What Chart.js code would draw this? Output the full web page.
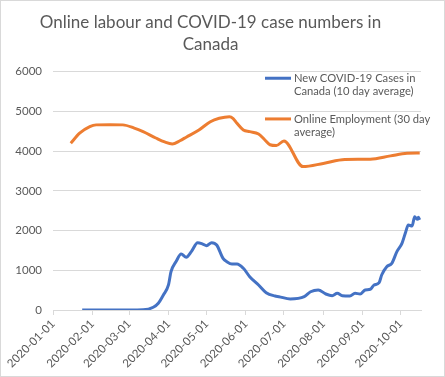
<!DOCTYPE html>
<html>
<head>
<meta charset="utf-8">
<script src="https://cdn.jsdelivr.net/npm/chart.js@4"></script>
<style>
  html, body { margin: 0; padding: 0; background: #fff; }
  #wrap { width: 445px; height: 377px; position: relative; }
</style>
</head>
<body>
<div id="wrap"><canvas id="chart"></canvas></div>
<script>
// chart data
const titleLines = ['Online labour and COVID-19 case numbers in', 'Canada'];
const monthTicks = ['2020-01-01', '2020-02-01', '2020-03-01', '2020-04-01', '2020-05-01',
    '2020-06-01', '2020-07-01', '2020-08-01', '2020-09-01', '2020-10-01'];
const xRange = ['2020-01-01', '2020-10-17'];

const caseDates = ['2020-01-24', '2020-03-01', '2020-03-12', '2020-03-20', '2020-03-24',
    '2020-03-28', '2020-04-01', '2020-04-03', '2020-04-07', '2020-04-11', '2020-04-15',
    '2020-04-19', '2020-04-24', '2020-04-28', '2020-05-01', '2020-05-05', '2020-05-09',
    '2020-05-14', '2020-05-17', '2020-05-21', '2020-05-25', '2020-05-30', '2020-06-04',
    '2020-06-11', '2020-06-17', '2020-06-24', '2020-06-27', '2020-07-06', '2020-07-17',
    '2020-07-22', '2020-07-28', '2020-08-03', '2020-08-08', '2020-08-12', '2020-08-16',
    '2020-08-22', '2020-08-26', '2020-08-30', '2020-09-03', '2020-09-07', '2020-09-10',
    '2020-09-14', '2020-09-16', '2020-09-20', '2020-09-24', '2020-09-28', '2020-10-02',
    '2020-10-05', '2020-10-07', '2020-10-10', '2020-10-12', '2020-10-14', '2020-10-15',
    '2020-10-16'];
const caseValues = [0, 0, 5, 70, 170,
    380, 630, 965, 1220, 1410, 1330,
    1470, 1695, 1660, 1620, 1695, 1636,
    1300, 1217, 1158, 1158, 1050, 840,
    630, 436, 352, 336, 277, 336,
    460, 504, 403, 361, 420, 361,
    352, 420, 403, 504, 521, 629,
    688, 881, 1090, 1175, 1469, 1678,
    1972, 2140, 2115, 2349, 2283, 2333,
    2266];

const empDates = ['2020-01-15', '2020-01-22', '2020-01-30', '2020-02-04', '2020-02-15',
    '2020-02-25', '2020-03-05', '2020-03-12', '2020-03-22', '2020-03-29', '2020-04-04',
    '2020-04-10', '2020-04-15', '2020-04-25', '2020-05-04', '2020-05-11', '2020-05-19',
    '2020-05-22', '2020-05-25', '2020-05-30', '2020-06-04', '2020-06-11', '2020-06-16',
    '2020-06-20', '2020-06-25', '2020-07-01', '2020-07-16', '2020-08-01', '2020-08-18',
    '2020-09-07', '2020-09-23', '2020-10-06', '2020-10-16'];
const empValues = [4200, 4450, 4615, 4660, 4665,
    4660, 4580, 4490, 4330, 4230, 4180,
    4260, 4350, 4530, 4740, 4826, 4867,
    4820, 4700, 4530, 4490, 4430, 4280,
    4160, 4140, 4255, 3610, 3690, 3790,
    3795, 3880, 3945, 3950];

const seriesNames = ['New COVID-19 Cases in Canada (10 day average)', 'Online Employment (30 day average)'];
const legendLines = [['New COVID-19 Cases in', 'Canada (10 day average)'], ['Online Employment (30 day', 'average)']];
const seriesColors = ['#4472C4', '#ED7D31'];

const FONT = 'Lato, "Liberation Sans", sans-serif';
const GREY = '#595959';
const GRID = '#d9d9d9';

function dayOf(s) {
    return (Date.parse(s) - Date.parse('2020-01-01')) / 86400000;
}

function toPoints(dates, values) {
    return dates.map((d, i) => ({ x: dayOf(d), y: values[i] }));
}

// white background + thin outer border
const frame = {
    id: 'frame',
    beforeDraw(chart) {
        const ctx = chart.ctx;
        ctx.save();
        ctx.fillStyle = '#fff';
        ctx.fillRect(0, 0, chart.width, chart.height);
        ctx.strokeStyle = GRID;
        ctx.lineWidth = 1;
        ctx.strokeRect(0.5, 0.5, chart.width - 1, chart.height - 1);
        ctx.restore();
    }
};

// legend drawn inside the plot, top right, like the original
const insideLegend = {
    id: 'insideLegend',
    afterDraw(chart) {
        const ctx = chart.ctx;
        const a = chart.chartArea;
        const x0 = a.right - 156;
        let y = a.top + 6.6;
        ctx.save();
        chart.data.datasets.forEach((ds, i) => {
            ctx.strokeStyle = ds.borderColor;
            ctx.lineWidth = 3;
            ctx.beginPath();
            ctx.moveTo(x0, y);
            ctx.lineTo(x0 + 26, y);
            ctx.stroke();
            ctx.fillStyle = GREY;
            ctx.font = '11.2px ' + FONT;
            ctx.textAlign = 'left';
            ctx.textBaseline = 'middle';
            legendLines[i].forEach((t, j) => ctx.fillText(t, x0 + 29, y + j * 13.4));
            y += 40.7;
        });
        ctx.restore();
    }
};

const ctx = document.getElementById('chart').getContext('2d');
new Chart(ctx, {
    type: 'line',
    data: {
        datasets: [{
            label: seriesNames[0],
            data: toPoints(caseDates, caseValues),
            borderColor: seriesColors[0],
            backgroundColor: seriesColors[0],
            borderWidth: 3,
            pointRadius: 0,
            cubicInterpolationMode: 'monotone',
            fill: false
        }, {
            label: seriesNames[1],
            data: toPoints(empDates, empValues),
            borderColor: seriesColors[1],
            backgroundColor: seriesColors[1],
            borderWidth: 3,
            pointRadius: 0,
            cubicInterpolationMode: 'monotone',
            fill: false
        }]
    },
    options: {
        responsive: true,
        maintainAspectRatio: false,
        animation: false,
        layout: { padding: { left: 0, right: 24, top: 0, bottom: 0 } },
        plugins: {
            legend: { display: false },
            tooltip: { enabled: false },
            title: {
                display: true,
                text: titleLines,
                color: GREY,
                font: { family: FONT, size: 17, weight: 'normal', lineHeight: 1.31 },
                padding: { top: 11.5, bottom: 15.6 }
            }
        },
        scales: {
            x: {
                type: 'linear',
                min: dayOf(xRange[0]),
                max: dayOf(xRange[1]),
                afterBuildTicks(scale) {
                    scale.ticks = monthTicks.map(m => ({ value: dayOf(m) }));
                },
                afterFit(scale) {
                    scale.height = 67;
                },
                ticks: {
                    autoSkip: false,
                    maxRotation: 45,
                    minRotation: 45,
                    color: GREY,
                    font: { family: FONT, size: 11.5 },
                    padding: 2,
                    callback(value) {
                        const hit = monthTicks.find(m => dayOf(m) === value);
                        return hit || '';
                    }
                },
                grid: {
                    drawOnChartArea: false,
                    drawTicks: true,
                    tickLength: 5,
                    color: GRID
                },
                border: { color: GRID }
            },
            y: {
                min: 0,
                max: 6000,
                afterFit(scale) {
                    scale.width = 53;
                },
                ticks: {
                    stepSize: 1000,
                    color: GREY,
                    font: { family: FONT, size: 11.5 },
                    padding: 11,
                    callback: (v) => String(v)
                },
                grid: { color: GRID, drawTicks: false },
                border: { display: false }
            }
        }
    },
    plugins: [frame, insideLegend]
});
</script>
</body>
</html>
